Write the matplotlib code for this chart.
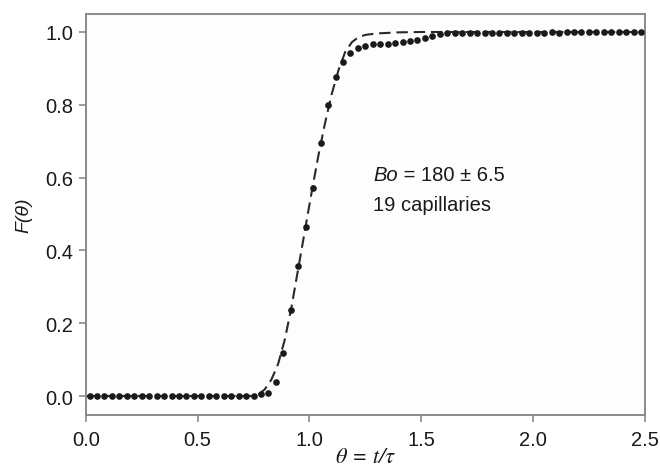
import numpy as np
import matplotlib
matplotlib.use("Agg")
import matplotlib.pyplot as plt

plt.rcParams["font.family"] = ["Liberation Sans", "DejaVu Sans"]

# Measured response F(theta), sampled every 1/30 of tau
theta_meas = np.round(1 / 60 + np.arange(75) / 30, 4)
F_meas = [0.0] * 23 + [
    0.005, 0.008, 0.039, 0.118, 0.237, 0.358, 0.463, 0.571, 0.695,
    0.799, 0.876, 0.917, 0.942, 0.955, 0.962, 0.966, 0.967, 0.968,
    0.970, 0.972, 0.974, 0.979, 0.984, 0.988, 0.994, 0.996, 0.997,
    0.997, 0.997, 0.997, 0.998, 0.997, 0.998, 0.998, 0.998, 0.998,
    0.998, 0.998, 0.998, 0.999, 0.998, 0.999, 0.999, 0.999, 0.999,
    0.999, 0.999, 0.999, 0.999, 0.999, 0.999, 0.999,
]

# Dispersion-model curve
theta_model = [0.0, 0.74, 0.77, 0.80, 0.83, 0.86, 0.89, 0.92, 0.95, 0.98,
               1.01, 1.04, 1.07, 1.10, 1.13, 1.16, 1.19, 1.22, 1.25, 1.30,
               1.40, 1.50, 1.60, 2.50]
F_model = [0.0, 0.0, 0.003, 0.018, 0.045, 0.088, 0.155, 0.245, 0.35, 0.455,
           0.56, 0.66, 0.75, 0.83, 0.895, 0.945, 0.972, 0.986, 0.992, 0.996,
           0.999, 1.0, 1.0, 1.0]

x_ticks = [0.0, 0.5, 1.0, 1.5, 2.0, 2.5]
y_ticks = [0.0, 0.2, 0.4, 0.6, 0.8, 1.0]

FS = 14.5

fig = plt.figure(figsize=(6.6, 4.77), dpi=100)
ax = fig.add_axes([0.130, 0.128, 0.847, 0.841])
ax.set_facecolor("#fdfdfd")

ax.plot(theta_model, F_model, color="#2a2a2a", lw=1.5,
        linestyle=(0, (5.5, 2.8)), zorder=2)
ax.plot(theta_meas, F_meas, "o", color="#1a1a1a", ms=4.8, mew=0, zorder=3)

ax.set_xlim(0, 2.5)
ax.set_ylim(-0.052, 1.05)
ax.set_xticks(x_ticks)
ax.set_xticklabels([f"{v:.1f}" for v in x_ticks])
ax.set_yticks(y_ticks)
ax.set_yticklabels([f"{v:.1f}" for v in y_ticks])

for s in ax.spines.values():
    s.set_color("#8a8a8a")
    s.set_linewidth(1.4)
ax.tick_params(direction="out", length=5, width=1.2, color="#8a8a8a",
               labelsize=FS, labelcolor="#1a1a1a")
ax.tick_params(axis="x", pad=6)
ax.tick_params(axis="y", pad=4)

ax.set_xlabel("θ = t/τ", fontsize=16, color="#1a1a1a", labelpad=-2,
              family=["STIXGeneral", "DejaVu Serif"], style="italic")
ax.set_ylabel("F(θ)", fontsize=14, color="#1a1a1a", labelpad=9,
              style="italic")

bo = ax.text(1.285, 0.594, "Bo", fontsize=FS, color="#1a1a1a",
             style="italic", va="baseline")
ax.annotate(" = 180 ± 6.5", xy=(1, 0), xycoords=bo, fontsize=FS,
            color="#1a1a1a", va="bottom", ha="left")
ax.text(1.285, 0.525, "19 capillaries", fontsize=FS, color="#1a1a1a",
        va="center")

fig.savefig("out.png", dpi=100, facecolor="white")
